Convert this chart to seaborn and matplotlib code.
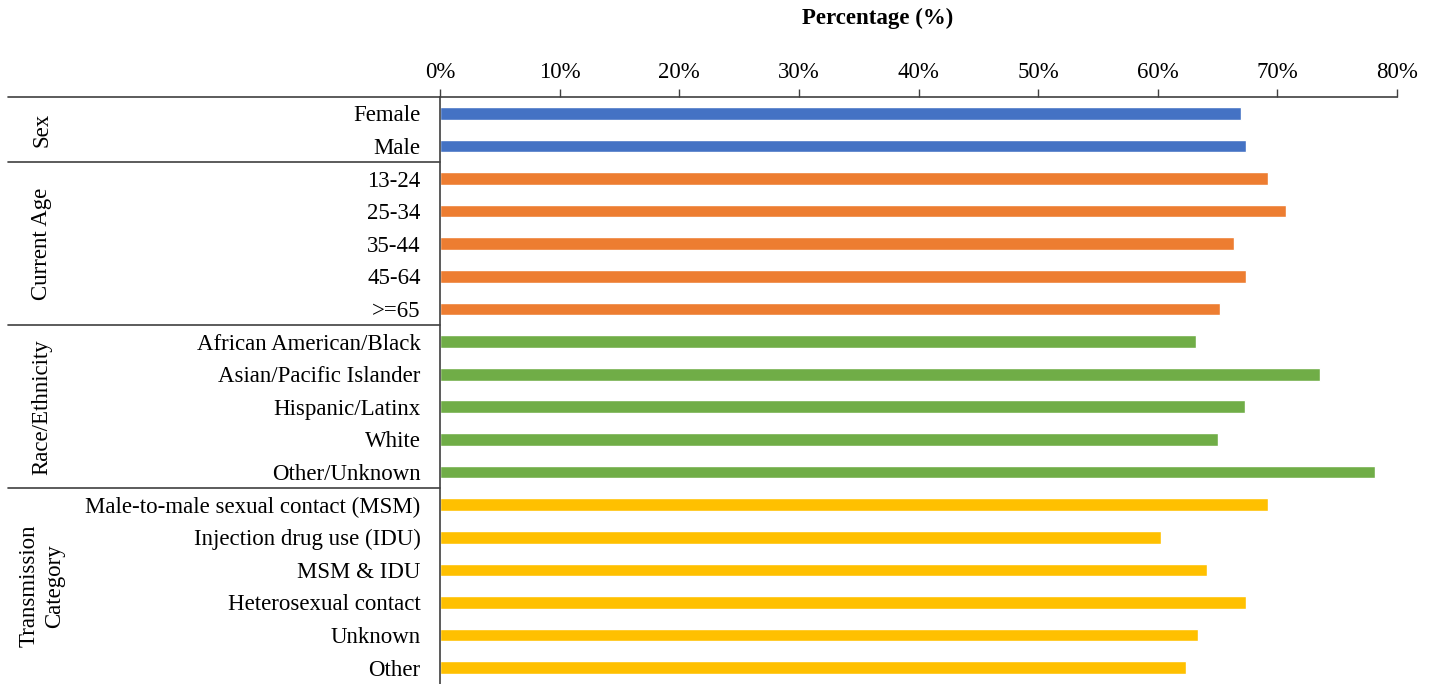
import pandas as pd
import numpy as np
import matplotlib.pyplot as plt
import seaborn as sns

sns.set_style('white')
plt.rcParams['font.family'] = ['Liberation Serif', 'DejaVu Serif']
plt.rcParams['text.color'] = 'black'
plt.rcParams['xtick.color'] = 'black'
plt.rcParams['ytick.color'] = 'black'

# data
sex_labels = ['Female', 'Male']
sex_values = [67.0, 67.4]
age_labels = ['13-24', '25-34', '35-44', '45-64', '>=65']
age_values = [69.2, 70.7, 66.4, 67.4, 65.2]
race_labels = ['African American/Black', 'Asian/Pacific Islander', 'Hispanic/Latinx', 'White', 'Other/Unknown']
race_values = [63.2, 73.6, 67.3, 65.0, 78.2]
trans_labels = ['Male-to-male sexual contact (MSM)', 'Injection drug use (IDU)', 'MSM & IDU',
                'Heterosexual contact', 'Unknown', 'Other']
trans_values = [69.2, 60.3, 64.1, 67.4, 63.4, 62.4]

group_names = ['Sex', 'Current Age', 'Race/Ethnicity', 'Transmission\nCategory']
group_colors = ['#4472C4', '#ED7D31', '#70AD47', '#FFC000']

rows = []
for g, labs, vals in zip(group_names,
                         [sex_labels, age_labels, race_labels, trans_labels],
                         [sex_values, age_values, race_values, trans_values]):
    for l, v in zip(labs, vals):
        rows.append({'group': g, 'label': l, 'pct': v})
df = pd.DataFrame(rows)

fs = 16.5
fig = plt.figure(figsize=(14.37, 6.84), dpi=100)
ax = fig.add_axes([440 / 1437, 0.0, (1397 - 440) / 1437, 1 - 97 / 684])

sns.barplot(data=df, y='label', x='pct', hue='group', palette=group_colors,
            dodge=False, width=0.39, saturation=1, legend=False, ax=ax, orient='h')

ax.set_xlim(0, 80)
ax.set_ylim(len(df) - 0.5, -0.5)
ax.xaxis.tick_top()
ax.set_xticks(np.arange(0, 81, 10))
ax.set_xticklabels(['{}%'.format(t) for t in range(0, 81, 10)], fontsize=fs)
ax.tick_params(axis='x', direction='out', length=6, width=1, color='#404040', pad=4, top=True, bottom=False)
ax.tick_params(axis='y', length=0, pad=14, labelsize=fs)
ax.set_xlabel('')
ax.set_ylabel('')
for s in ['right', 'bottom']:
    ax.spines[s].set_visible(False)
for s in ['top', 'left']:
    ax.spines[s].set_color('#404040')
    ax.spines[s].set_linewidth(1.2)

# group separators to the left of the axis
xl = (8 - 440) / 957
bounds = [-0.5]
n = 0
for labs in [sex_labels, age_labels, race_labels, trans_labels]:
    n += len(labs)
    bounds.append(n - 0.5)
for b in bounds[:-1]:
    ax.axhline(b, xmin=xl, xmax=0, color='#404040', lw=1.2, clip_on=False)

xt = (42 - 440) / 957
for g, lo, hi in zip(group_names, bounds[:-1], bounds[1:]):
    ax.text(xt, (lo + hi) / 2, g, rotation=90, ha='center', va='center',
            fontsize=fs, transform=ax.get_yaxis_transform(), linespacing=1.25)

fig.text(878 / 1437, 1 - 18 / 684, 'Percentage (%)', ha='center', va='center',
         fontsize=fs, fontweight='bold')

fig.savefig('out.png', dpi=100)
